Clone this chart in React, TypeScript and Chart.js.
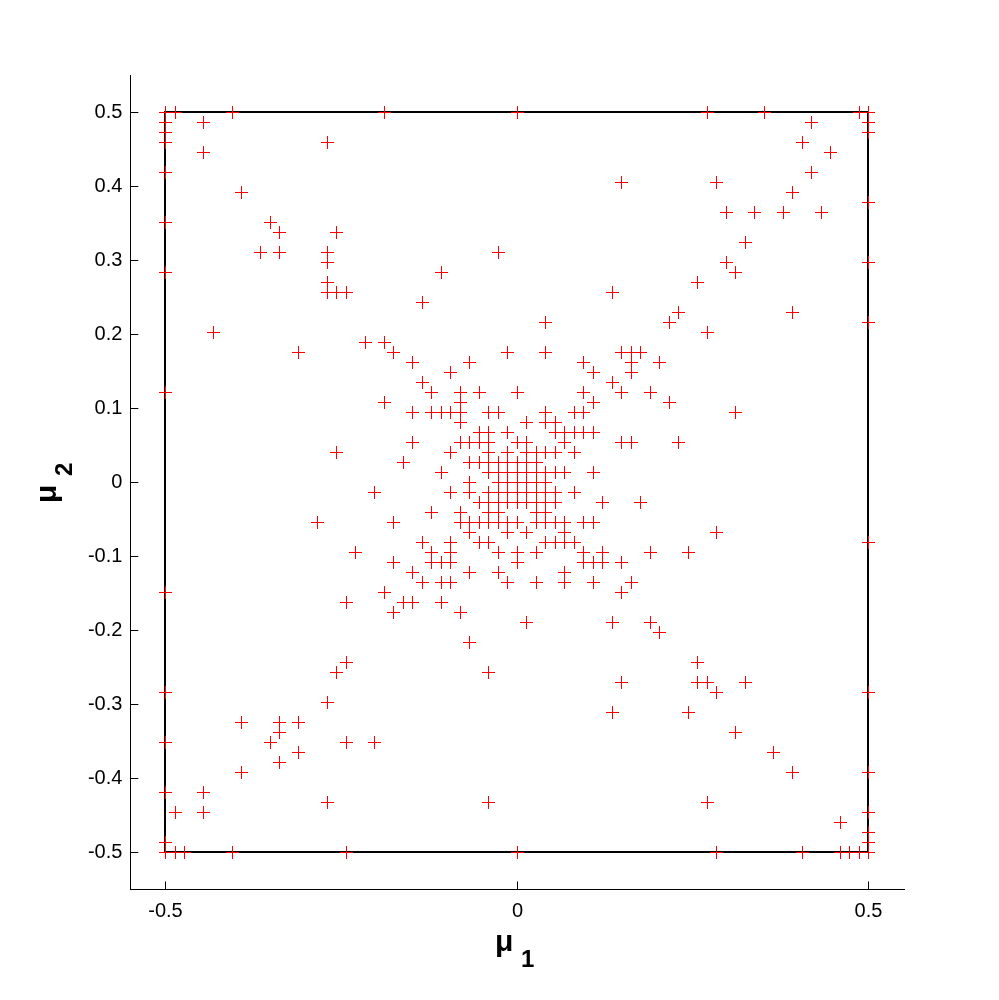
import React, { useEffect, useRef } from "react";
import { Chart, registerables } from "chart.js";

Chart.register(...registerables);

// The solution points sit on a regular lattice of 1/74; each row is one mu2 step with its mu1 steps.
const latticeStep = 1 / 74;
const mu2Steps = [
  37, 36, 35, 34, 33, 31, 30, 29, 28, 27, 26, 25, 24, 23, 22, 21, 20, 19, 18, 17, 16, 15, 14, 13, 12, 11, 10, 9, 8, 7, 6, 5, 4, 3, 2, 1, 0,
  -1, -2, -3, -4, -5, -6, -7, -8, -9, -10, -11, -12, -13, -14, -15, -16, -18, -19, -20, -21, -22, -23, -24, -25, -26, -27, -28, -29, -31, -32, -33, -34, -35, -36, -37,
];
const mu1StepsByRow = [
  [-37, -36, -30, -14, 0, 20, 26, 36, 37],
  [-37, -33, 31, 37],
  [-37, 37],
  [-37, -20, 30],
  [-33, 33],
  [-37, 31],
  [11, 21],
  [-29, 29],
  [37],
  [22, 25, 28, 32],
  [-37, -26],
  [-25, -19],
  [24],
  [-27, -25, -20, -2],
  [-20, 22, 37],
  [-37, -8, 23],
  [-20, 19],
  [-20, -19, -18, 10],
  [-10],
  [17, 29],
  [3, 16, 37],
  [-32, 20],
  [-16, -14],
  [-23, -13, -1, 3, 11, 12, 13],
  [-11, -5, 7, 12, 15],
  [-7, 8, 12],
  [-10, 10],
  [-37, -9, -6, -4, 0, 7, 11, 14],
  [-14, -6, 8, 16],
  [-11, -9, -8, -7, -6, -3, -2, 3, 6, 7, 23],
  [-6, 1, 3, 4],
  [-4, -3, -1, 4, 5, 6, 7, 8],
  [-11, -6, -5, -4, -3, 0, 1, 5, 11, 12, 17],
  [-19, -7, -3, -1, 1, 2, 3, 4, 6],
  [-12, -5, -4, -3, -2, -1, 0, 1, 2],
  [-8, -3, -2, -1, 0, 1, 2, 3, 4, 5, 8],
  [-5, -2, -1, 0, 1, 2, 3],
  [-15, -7, -5, -3, -2, -1, 0, 1, 2, 3, 4, 6],
  [-4, -3, -2, -1, 0, 1, 2, 3, 4, 9, 13],
  [-9, -6, -3, -2, 2, 3],
  [-21, -13, -6, -5, -4, -3, -2, -1, 0, 2, 3, 4, 5, 7, 8],
  [-5, -1, 1, 5, 21],
  [-10, -7, -4, -3, 3, 4, 5, 6, 37],
  [-17, -9, -7, -2, 0, 2, 7, 9, 14, 18],
  [-13, -9, -8, -7, 0, 7, 8, 9, 11],
  [-11, -5, -2, 5],
  [-10, -8, -7, -1, 2, 5, 8, 12],
  [-37, -14, 11],
  [-18, -12, -11, -8],
  [-13, -6],
  [1, 10, 14],
  [15],
  [-5],
  [-18, 19],
  [-19, -3],
  [11, 19, 20, 24],
  [-37, 21, 37],
  [-20],
  [10, 18],
  [-29, -25, -23],
  [-25, 23],
  [-37, -26, -18, -15],
  [-23, 27],
  [-25],
  [-29, 29, 37],
  [-37, -33],
  [-20, -3, 20],
  [-36, -33, 37],
  [34],
  [37],
  [-37, 37],
  [-37, -36, -35, -30, -18, 0, 21, 30, 34, 35, 36, 37],
];
const boxMu1 = [-0.5, 0.5, 0.5, -0.5, -0.5];
const boxMu2 = [-0.5, -0.5, 0.5, 0.5, -0.5];
const xTicks = [-0.5, 0, 0.5];
const yTicks = [-0.5, -0.4, -0.3, -0.2, -0.1, 0, 0.1, 0.2, 0.3, 0.4, 0.5];

const FONT = '"Liberation Sans", Arial, sans-serif';

const points = mu2Steps.flatMap((j, r) =>
  mu1StepsByRow[r].map((k) => ({ x: k * latticeStep, y: j * latticeStep }))
);
const box = boxMu1.map((x, i) => ({ x, y: boxMu2[i] }));

// The original is a non-antialiased bitmap: markers land on whole pixels.
function snapToPixels(scale: any) {
  if (scale.$snapped) return;
  scale.$snapped = true;
  const original = scale.getPixelForValue.bind(scale);
  scale.getPixelForValue = (v: number, i?: number) => Math.floor(original(v, i) + 0.01) + 0.5;
}

const boxOffset = {
  id: "boxOffset",
  beforeDatasetDraw(chart: any, args: any) {
    if (args.index === 0) {
      chart.ctx.save();
      chart.ctx.translate(-0.5, -0.5);
    }
  },
  afterDatasetDraw(chart: any, args: any) {
    if (args.index === 0) chart.ctx.restore();
  },
};

const axisTitles = {
  id: "axisTitles",
  afterDraw(chart: any) {
    const ctx = chart.ctx;
    ctx.save();
    ctx.fillStyle = "#000";
    ctx.textBaseline = "alphabetic";
    ctx.textAlign = "left";
    ctx.font = `bold 30px ${FONT}`;
    ctx.fillText("μ", 495, 951);
    ctx.font = `bold 24px ${FONT}`;
    ctx.fillText("1", 521, 967);
    ctx.translate(56, 503);
    ctx.rotate(-Math.PI / 2);
    ctx.font = `bold 30px ${FONT}`;
    ctx.fillText("μ", 0, 0);
    ctx.font = `bold 24px ${FONT}`;
    ctx.fillText("2", 27, 16);
    ctx.restore();
  },
};

export default function App() {
  const ref = useRef<HTMLCanvasElement | null>(null);
  useEffect(() => {
    if (!ref.current) return;
    const tickStyle = { color: "#000", font: { family: FONT, size: 20 }, autoSkip: false, maxRotation: 0, minRotation: 0 };
    const gridStyle = { drawOnChartArea: false, drawTicks: true, tickLength: -8, tickColor: "#000", tickWidth: 1 };
    const borderStyle = { display: true, color: "#000", width: 1 };
    const chart = new Chart(ref.current, {
      type: "scatter",
      data: {
        datasets: [
          {
            label: "box",
            data: box,
            order: 2,
            showLine: true,
            borderColor: "#000",
            borderWidth: 2,
            pointRadius: 0,
            tension: 0,
            fill: false,
          },
          {
            label: "points",
            data: points,
            order: 1,
            showLine: false,
            pointStyle: "cross",
            pointRadius: 6.5,
            pointBorderColor: "#ff0000",
            pointBorderWidth: 1,
            pointBackgroundColor: "#ff0000",
          },
        ],
      },
      options: {
        responsive: false,
        animation: false,
        layout: { padding: { top: 75.5, right: 95, left: 0, bottom: 0 } },
        plugins: { legend: { display: false }, tooltip: { enabled: false }, title: { display: false } },
        scales: {
          x: {
            type: "linear",
            min: -0.55,
            max: 0.55,
            grid: gridStyle,
            border: borderStyle,
            ticks: { ...tickStyle, padding: 18, callback: (v: any) => String(v) },
            afterBuildTicks: (s: any) => {
              s.ticks = xTicks.map((value) => ({ value }));
            },
            afterFit: (s: any) => {
              s.height = 110.5;
            },
            afterDataLimits: snapToPixels,
          },
          y: {
            type: "linear",
            min: -0.55,
            max: 0.55,
            grid: gridStyle,
            border: borderStyle,
            ticks: { ...tickStyle, padding: 16, callback: (v: any) => String(v) },
            afterBuildTicks: (s: any) => {
              s.ticks = yTicks.map((value) => ({ value }));
            },
            afterFit: (s: any) => {
              s.width = 130.35;
            },
            afterDataLimits: snapToPixels,
          },
        },
      },
      plugins: [boxOffset, axisTitles],
    } as any);
    return () => chart.destroy();
  }, []);
  return (
    <div style={{ position: "fixed", left: 0, top: 0, width: 999, height: 1000, background: "#fff" }}>
      <canvas ref={ref} width={999} height={1000} style={{ display: "block", width: 999, height: 1000 }} />
    </div>
  );
}
